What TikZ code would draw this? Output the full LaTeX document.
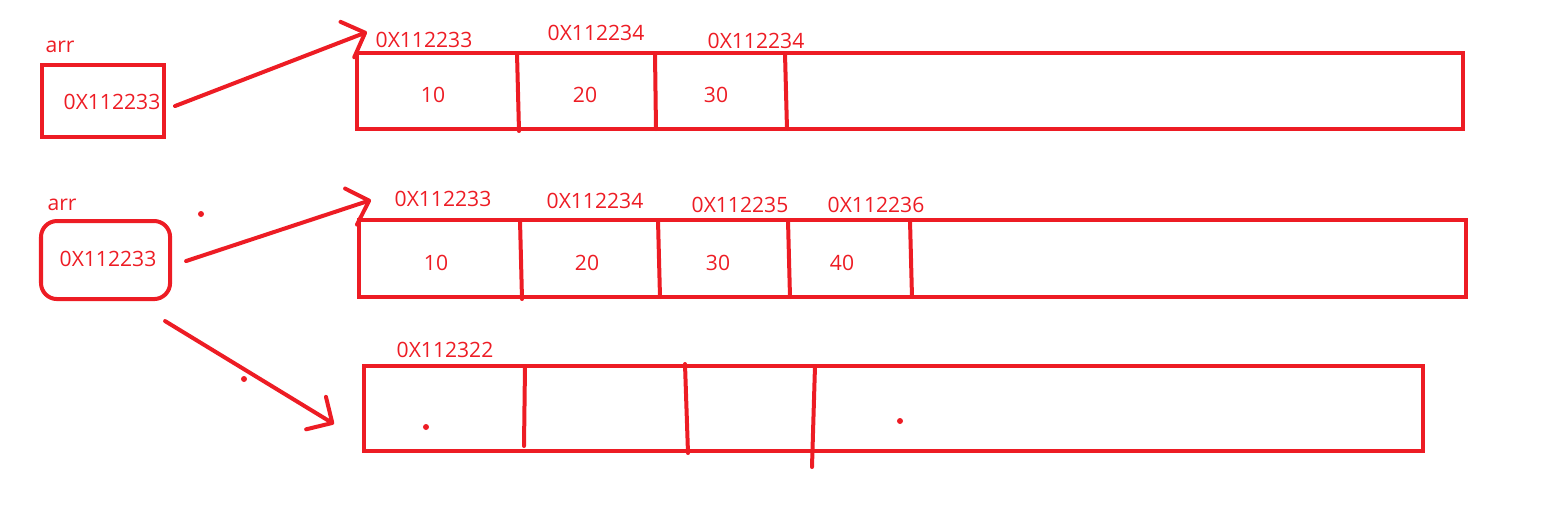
\documentclass[tikz,border=0pt]{standalone}
\usepackage{fontspec}
\setmainfont{Open Sans}
\usetikzlibrary{arrows.meta,positioning}
\definecolor{paintred}{HTML}{ED1C24}
\tikzset{
  membox/.style={draw=paintred, line width=0.04cm, inner sep=0pt, outer sep=0pt, anchor=north west},
  cellline/.style={draw=paintred, line width=0.04cm, line cap=round},
  txt/.style={text=paintred, inner sep=0pt, font=\fontsize{6}{7}\selectfont},
  ptr/.style={draw=paintred, line width=0.04cm, line cap=round,
    -{Straight Barb[length=0.19cm,width=0.38cm,round]}},
  speck/.style={fill=paintred, draw=none}
}

\begin{document}
\begin{tikzpicture}[x=0.01cm, y=-0.01cm]
                \useasboundingbox (0,0) rectangle (1568,514);

                % first pointer
                \node[txt] (lab1) at (60,47) {arr};
                \node[membox, minimum width=1.22cm, minimum height=0.72cm] (p1) at (42,65) {};
                \node[txt] (v1) at (112,102) {0X112233};

                % first array
                \node[membox, minimum width=11.05cm, minimum height=0.76cm] (a1) at (357,53) {};
                \draw[cellline] (517,53) -- (519,131);
                \draw[cellline] (655,53) -- (656,129);
                \draw[cellline] (785,53) -- (787,129);
                \node[txt] (a1x1) at (424,40) {0X112233};
                \node[txt] (a1x2) at (596,33) {0X112234};
                \node[txt] (a1x3) at (756,41) {0X112234};
                \node[txt] (a1v1) at (433,95) {10};
                \node[txt] (a1v2) at (585,95) {20};
                \node[txt] (a1v3) at (716,95) {30};

                \coordinate (t1) at (367,32);
                \draw[ptr] ([xshift=0.11cm,yshift=-0.05cm]p1.east) -- (t1);

                % second pointer - rounded
                \node[txt] (lab2) at (62,205) {arr};
                \node[membox, rounded corners=0.16cm, minimum width=1.29cm, minimum height=0.78cm] (p2) at (41,221) {};
                \node[txt] (v2) at (108,259) {0X112233};
                \fill[speck] (201,214) circle (0.03cm);

                % second array
                \node[membox, minimum width=11.06cm, minimum height=0.77cm] (a2) at (359,220) {};
                \draw[cellline] (520,220) -- (522,299);
                \draw[cellline] (658,220) -- (660,297);
                \draw[cellline] (788,220) -- (790,297);
                \draw[cellline] (910,220) -- (912,297);
                \node[txt] (a2x1) at (443,199) {0X112233};
                \node[txt] (a2x2) at (595,201) {0X112234};
                \node[txt] (a2x3) at (740,205) {0X112235};
                \node[txt] (a2x4) at (876,205) {0X112236};
                \node[txt] (a2v1) at (436,263) {10};
                \node[txt] (a2v2) at (587,263) {20};
                \node[txt] (a2v3) at (718,263) {30};
                \node[txt] (a2v4) at (842,263) {40};

                \coordinate (t2) at (371,200);
                \draw[ptr] ([xshift=0.16cm,yshift=-0.01cm]p2.east) -- (t2);

                % third array
                \node[membox, minimum width=10.58cm, minimum height=0.85cm] (a3) at (364,366) {};
                \draw[cellline] (525,366) -- (524,446);
                \draw[cellline] (685,364) -- (688,453);
                \draw[cellline] (815,366) -- (812,467);
                \node[txt] (a3x1) at (445,350) {0X112322};
                \fill[speck] (426,427) circle (0.03cm);
                \fill[speck] (900,421) circle (0.03cm);
                \fill[speck] (244,379) circle (0.03cm);

                \coordinate (t3) at (334,424);
                \draw[ptr] ([xshift=-0.05cm,yshift=-0.22cm]p2.south east) -- (t3);
            \end{tikzpicture}
\end{document}
